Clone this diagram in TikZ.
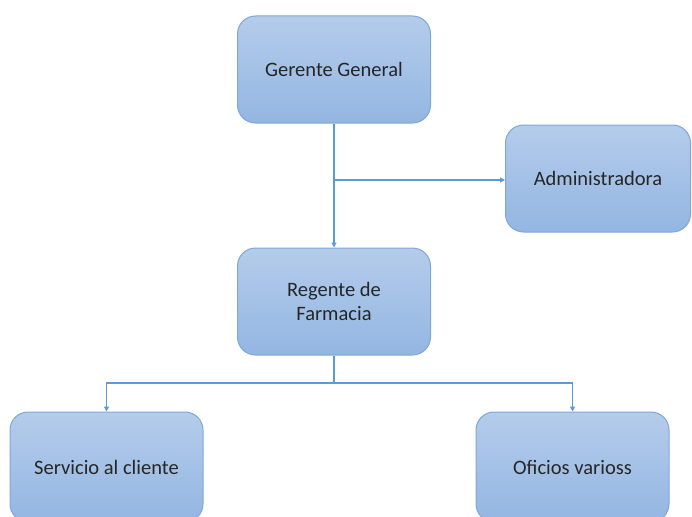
\documentclass[tikz,border=0pt]{standalone}
\usepackage{fontspec}
\setmainfont{Carlito}
\usetikzlibrary{arrows.meta}
\definecolor{boxtop}{HTML}{B5CCEB}
\definecolor{boxbot}{HTML}{93B6E2}
\definecolor{boxline}{HTML}{7EA7DA}
\definecolor{conn}{HTML}{5B9BD5}
\tikzset{
  orgbox/.style={draw=boxline, line width=1pt, rounded corners=18pt, top color=boxtop, bottom color=boxbot,
    minimum width=193pt, minimum height=107pt, align=center, font=\fontsize{20.5}{24}\selectfont, text=black!85, inner sep=0pt},
  link/.style={draw=conn, line width=1.2pt, -{Triangle[length=5pt,width=5pt]}},
  plain/.style={draw=conn, line width=1.2pt}
}
\begin{document}
\begin{tikzpicture}[x=1pt,y=-1pt]
\useasboundingbox (0,0) rectangle (692,516);
\clip (0,0) rectangle (692,516);
\node[orgbox] (gg) at (334,69.5) {Gerente General};
\node[orgbox, minimum width=185pt] (ad) at (598,178.5) {Administradora};
\node[orgbox] (rf) at (334,301.5) {Regente de\\Farmacia};
\node[orgbox, minimum height=110pt] (sc) at (106.5,467) {Servicio al cliente};
\node[orgbox, minimum height=110pt] (ov) at (572.5,467) {Oficios varioss};
\coordinate (j1) at (334,180);
\coordinate (j2) at (334,383);
\draw[link] (gg.south) -- (rf.north);
\draw[link] (j1) -- (j1 -| ad.west);
\draw[plain] (rf.south) -- (j2);
\draw[link] (j2) -| (sc.north);
\draw[link] (j2) -| (ov.north);
\end{tikzpicture}
\end{document}
